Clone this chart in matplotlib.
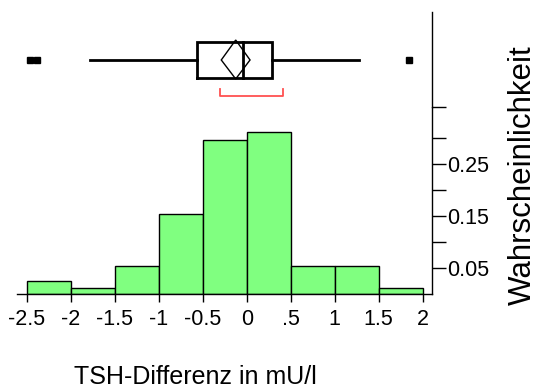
import matplotlib
matplotlib.use('Agg')
import matplotlib.pyplot as plt
from matplotlib.patches import Polygon

plt.rcParams['font.family'] = ['Liberation Sans', 'DejaVu Sans']

# histogram: bin edges and relative frequencies
bin_edges = [-2.5, -2, -1.5, -1, -0.5, 0, 0.5, 1, 1.5, 2]
probs = [0.025, 0.011, 0.054, 0.154, 0.297, 0.311, 0.054, 0.054, 0.011]
xtick_vals = [-2.5, -2, -1.5, -1, -0.5, 0, 0.5, 1, 1.5, 2]
xtick_labels = ['-2.5', '-2', '-1.5', '-1', '-0.5', '0', '.5', '1', '1.5', '2']
ytick_major = [0.05, 0.15, 0.25]
ytick_minor = [0.1, 0.2, 0.3, 0.36]

# outlier box plot summary
q1, median, q3 = -0.568, -0.045, 0.291
whisk_lo, whisk_hi = -1.78, 1.276
outliers = [-2.46, -2.38, 1.841]
mean, ci_lo, ci_hi = -0.125, -0.289, 0.038
shortest_half = (-0.30, 0.409)

W, H = 541, 391
fig = plt.figure(figsize=(W / 100, H / 100), dpi=100)
left, right = 16.7 / W, 432 / W
ax = fig.add_axes([left, 1 - 294 / H, right - left, (294 - 107) / H])
axb = fig.add_axes([left, 1 - 107 / H, right - left, (107 - 12) / H], sharex=ax)

widths = [b - a for a, b in zip(bin_edges[:-1], bin_edges[1:])]
ax.bar(bin_edges[:-1], probs, width=widths, align='edge', color='#80ff80',
       edgecolor='black', linewidth=1)
ax.set_xlim(-2.614, 2.106)
ax.set_ylim(0, 0.36)
for s in ['left', 'top']:
    ax.spines[s].set_visible(False)
ax.spines['bottom'].set_linewidth(1)
ax.spines['right'].set_linewidth(1)
ax.set_xticks(xtick_vals)
ax.set_xticklabels(xtick_labels, fontsize=15.5)
ax.yaxis.tick_right()
ax.set_yticks(ytick_major)
ax.set_yticklabels(['%.2f' % v for v in ytick_major], fontsize=15.5)
ax.set_yticks(ytick_minor, minor=True)
ax.tick_params(axis='y', which='both', direction='out', length=10, width=1, pad=1)
ax.tick_params(axis='x', direction='out', length=6, width=1, pad=5)

# box plot panel
yc, hh = 0.495, 0.19
lw = 2
axb.plot([whisk_lo, q1], [yc, yc], color='black', lw=lw)
axb.plot([q3, whisk_hi], [yc, yc], color='black', lw=lw)
axb.plot([q1, q3, q3, q1, q1], [yc - hh, yc - hh, yc + hh, yc + hh, yc - hh],
         color='black', lw=lw, solid_joinstyle='miter')
axb.plot([median, median], [yc - hh, yc + hh], color='black', lw=lw)
axb.add_patch(Polygon([(ci_lo, yc), (mean, 0.705), (ci_hi, yc), (mean, 0.295)],
                      closed=True, fill=False, edgecolor='black', lw=1))
axb.plot(outliers, [yc] * len(outliers), 's', color='black', ms=5, mec='black')
axb.plot([shortest_half[0], shortest_half[0], shortest_half[1], shortest_half[1]],
         [0.187, 0.119, 0.119, 0.187], color='#ff5050', lw=1.3)
axb.set_ylim(0, 1)
for s in ['left', 'top', 'bottom']:
    axb.spines[s].set_visible(False)
axb.spines['right'].set_linewidth(1)
axb.tick_params(axis='both', which='both', length=0, labelbottom=False,
                labelleft=False, labelright=False)
axb.set_yticks([])

fig.text(195 / W, 1 - 377 / H, 'TSH-Differenz in mU/l', fontsize=18,
         ha='center', va='center')
fig.text(523 / W, 1 - 175 / H, 'Wahrscheinlichkeit', fontsize=22.5,
         rotation=90, ha='center', va='center')

fig.savefig('out.png', dpi=100)
